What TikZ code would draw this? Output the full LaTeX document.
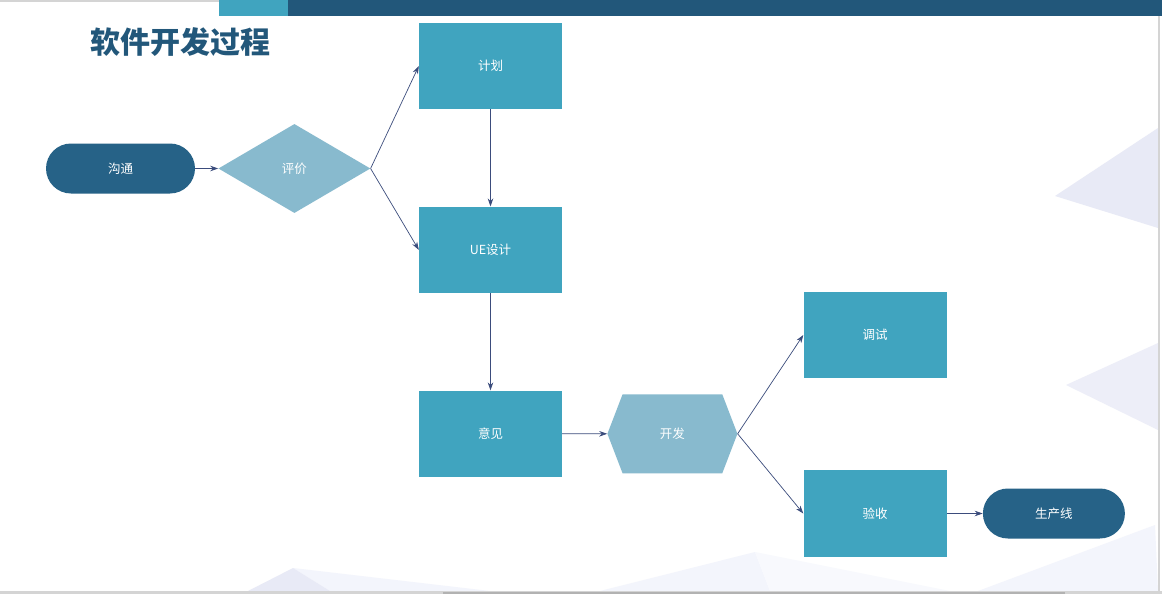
\documentclass[tikz,border=0pt]{standalone}
\usepackage{fontspec}
\setmainfont{Noto Sans CJK SC}
\usepackage{xcolor}
\usetikzlibrary{arrows.meta,positioning,shapes.geometric,shapes.symbols,shapes.misc}

\definecolor{deepblue}{HTML}{266287}
\definecolor{barblue}{HTML}{22577A}
\definecolor{tealbox}{HTML}{40A4BF}
\definecolor{paleblue}{HTML}{88BACE}
\definecolor{linkblue}{HTML}{3B4C7C}
\definecolor{lavender}{HTML}{E8EAF6}
\definecolor{mist}{HTML}{F3F5FC}
\definecolor{frame}{HTML}{D4D4D4}

\begin{document}
\begin{tikzpicture}[x=1pt, y=-1pt,
  node distance=97pt and 23pt,
  lab/.style={text=white, font=\fontsize{12.5}{15}\selectfont},
  proc/.style={lab, fill=tealbox, minimum width=143pt, minimum height=86.5pt, inner sep=0pt},
  term/.style={lab, rounded rectangle, fill=deepblue, minimum height=50pt, inner sep=0pt},
  judge/.style={lab, diamond, fill=paleblue, minimum width=152pt, minimum height=89pt, inner sep=0pt},
  prep/.style={lab, signal, signal to=east and west, signal pointer angle=138,
               fill=paleblue, minimum width=130pt, minimum height=79pt, inner sep=0pt},
  arr/.style={-{Stealth[length=8pt,width=5.5pt]}, draw=linkblue, line width=0.7pt}]
  \useasboundingbox (0,0) rectangle (1162,594);
  \fill[white] (0,0) rectangle (1162,594);

  % faint slide background
  \fill[lavender] (1055,196) -- (1158,128) -- (1158,228) -- cycle;
  \fill[lavender!80] (1066,385) -- (1158,343) -- (1158,430) -- cycle;
  \fill[mist] (293,568) -- (490,591) -- (330,591) -- cycle;
  \fill[lavender] (248,591) -- (293,568) -- (330,591) -- cycle;
  \fill[mist] (600,591) -- (755,552) -- (770,591) -- cycle;
  \fill[mist!60] (755,552) -- (950,591) -- (770,591) -- cycle;
  \fill[mist] (978,591) -- (1155,525) -- (1158,591) -- cycle;

  % frame and top bar
  \fill[frame] (0,0) rectangle (219,2);
  \fill[tealbox] (219,0) rectangle (288,16);
  \fill[barblue] (288,0) rectangle (1162,16);
  \fill[frame] (1158,16) rectangle (1160,594);
  \fill[frame] (0,591) rectangle (1162,594);
  \fill[black!30] (443,592) rectangle (1065,594);

  \node[text=barblue, font=\fontsize{30}{35}\selectfont\bfseries] (title) at (180,42) {软件开发过程};

  \node[term, minimum width=149pt] (talk) at (120.5,168.5) {沟通};
  \node[judge, right=of talk] (review) {评价};
  \node[proc] (plan) at (490.5,66) {计划};
  \node[proc, below=of plan] (ue) {UE设计};
  \node[proc, below=of ue] (advice) {意见};
  \node[prep, right=45pt of advice] (dev) {开发};
  \node[proc] (debug) at (875,335) {调试};
  \node[proc] (accept) at (875,513.5) {验收};
  \node[term, minimum width=142pt, right=36pt of accept] (prod) {生产线};

  \draw[arr] (talk) -- (review);
  \draw[arr] (review.east) -- (plan.west);
  \draw[arr] (review.east) -- (ue.west);
  \draw[arr] (plan) -- (ue);
  \draw[arr] (ue) -- (advice);
  \draw[arr] (advice) -- (dev);
  \draw[arr] (dev.east) -- (debug.west);
  \draw[arr] (dev.east) -- (accept.west);
  \draw[arr] (accept) -- (prod);
\end{tikzpicture}
\end{document}
